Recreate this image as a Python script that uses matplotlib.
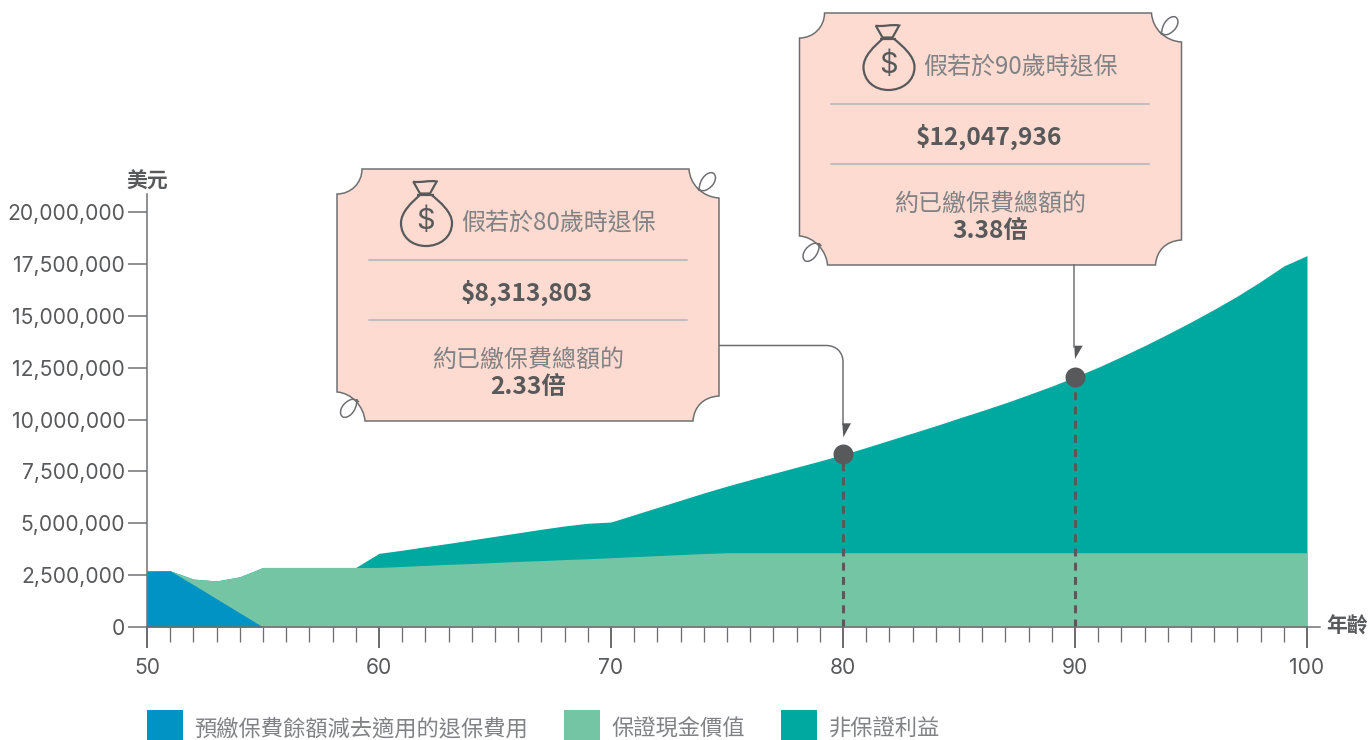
import matplotlib
matplotlib.use('Agg')
import matplotlib.pyplot as plt
from matplotlib.path import Path
from matplotlib.patches import PathPatch, Rectangle, Polygon

# 數據 (讀圖估算, 單位: 百萬美元)
ages = list(range(50, 101))
surrender_value = [2.70, 2.71, 2.04, 1.36, 0.68, 0] + [0] * 45
guaranteed_top = [2.70, 2.71, 2.31, 2.22, 2.42, 2.87, 2.87, 2.87, 2.87, 2.87,
                  2.87, 2.92, 2.97, 3.02, 3.06, 3.11, 3.16, 3.20, 3.25, 3.29,
                  3.34, 3.39, 3.44, 3.49, 3.54, 3.58, 3.58, 3.58, 3.58, 3.58,
                  3.58, 3.58, 3.58, 3.58, 3.58, 3.58, 3.58, 3.58, 3.58, 3.58,
                  3.58, 3.58, 3.58, 3.58, 3.58, 3.58, 3.58, 3.58, 3.58, 3.58,
                  3.58]
total_top = [2.70, 2.71, 2.31, 2.22, 2.42, 2.87, 2.87, 2.87, 2.87, 2.87,
             3.55, 3.70, 3.87, 4.03, 4.20, 4.37, 4.54, 4.71, 4.87, 5.00,
             5.06, 5.41, 5.76, 6.11, 6.46, 6.79, 7.10, 7.40, 7.70, 8.00,
             8.31, 8.65, 9.00, 9.35, 9.70, 10.07, 10.43, 10.80, 11.20, 11.61,
             12.05, 12.52, 13.03, 13.56, 14.12, 14.70, 15.31, 15.95, 16.65, 17.40,
             17.90]
y_ticks = [0, 2.5, 5, 7.5, 10, 12.5, 15, 17.5, 20]
y_labels = ['0', '2,500,000', '5,000,000', '7,500,000', '10,000,000',
            '12,500,000', '15,000,000', '17,500,000', '20,000,000']
x_major = [50, 60, 70, 80, 90, 100]
x_minor = [a for a in ages if a % 10 != 0]
legend_labels = ['預繳保費餘額減去適用的退保費用', '保證現金價值', '非保證利益']
exit_ages = [80, 90]
exit_values = [8.313803, 12.047936]
exit_titles = ['假若於80歲時退保', '假若於90歲時退保']
exit_amounts = ['$8,313,803', '$12,047,936']
exit_multiples = ['2.33倍', '3.38倍']

BLUE = '#0093c3'
GREEN = '#73c5a4'
TEAL = '#00a9a0'
DARK = '#58595b'
AXIS = '#6d6e71'
SOFT = '#808285'
CJK = ['Noto Sans CJK TC', 'DejaVu Sans']
LATIN = ['Inter', 'DejaVu Sans']

W, H = 1370, 740
fig = plt.figure(figsize=(W / 100, H / 100), dpi=100)
px_pt = 72 / 100

# 主圖: 50歲在 x=147, 0 在 y=627
ax = fig.add_axes([147 / W, (H - 627) / H, (1320 - 147) / W, (627 - 194) / H])
ax.set_xlim(50, 50 + (1320 - 147) / 23.2)
ax.set_ylim(0, (627 - 194) / 415 * 20)
ax.patch.set_visible(False)
for s in ['top', 'right']:
    ax.spines[s].set_visible(False)
for s in ['left', 'bottom']:
    ax.spines[s].set_color(AXIS)
    ax.spines[s].set_linewidth(1.5 * px_pt)

ax.fill_between(ages, 0, total_top, color=TEAL, lw=0)
ax.fill_between(ages, 0, guaranteed_top, color=GREEN, lw=0)
ax.fill_between(ages, 0, surrender_value, color=BLUE, lw=0)

ax.set_yticks(y_ticks)
ax.set_yticklabels(y_labels, family=LATIN, fontsize=15.2, color=DARK)
ax.tick_params(axis='y', length=19 * px_pt, width=1.5 * px_pt, color=AXIS, pad=2)
ax.set_xticks(x_major)
ax.set_xticklabels([str(a) for a in x_major], family=LATIN, fontsize=15.2, color=DARK)
ax.set_xticks(x_minor, minor=True)
ax.tick_params(axis='x', which='major', length=21 * px_pt, width=2 * px_pt, color=AXIS, pad=7)
ax.tick_params(axis='x', which='minor', length=15 * px_pt, width=1.3 * px_pt, color=AXIS)

for a, v in zip(exit_ages, exit_values):
    ax.plot([a, a], [0, v], color=DARK, lw=2.2, dashes=(2.6, 2.05), dash_capstyle='butt')
ax.scatter(exit_ages, exit_values, s=207, color=DARK, zorder=5, lw=0)

# 疊加層, 用像素座標畫註解
ov = fig.add_axes([0, 0, 1, 1])
ov.set_xlim(0, W)
ov.set_ylim(H, 0)
ov.axis('off')
ov.patch.set_visible(False)


def curve_path(start, segs, close=False):
    verts = [start]
    codes = [Path.MOVETO]
    for seg in segs:
        if len(seg) == 2:
            verts.append(seg)
            codes.append(Path.LINETO)
        else:
            verts += [seg[:2], seg[2:4], seg[4:6]]
            codes += [Path.CURVE4] * 3
    if close:
        verts.append(start)
        codes.append(Path.CLOSEPOLY)
    return Path(verts, codes)


def shifted(p, x0, y0):
    return Path(p.vertices + [x0, y0], p.codes)


body = curve_path((25, 0), [
    (352, 0), (353, 16, 366, 28, 382, 29),
    (382, 227), (366, 228, 357, 238, 356, 252),
    (28, 252), (27, 238, 15, 224, 0, 223),
    (0, 25), (14, 25, 25, 14, 25, 0)], close=True)
curl_tr = curve_path((362, 22), [(362, 8, 372, 2, 376, 4),
                                 (381, 7, 378, 16, 371, 20),
                                 (368, 22, 365, 23, 360, 19)])
curl_bl = curve_path((20, 230), [(20, 244, 10, 250, 6, 248),
                                 (1, 245, 4, 236, 11, 232),
                                 (14, 230, 17, 229, 22, 233)])
bag = curve_path((83, 26), [(75, 33, 64, 43, 64, 54), (64, 68, 75, 77, 89, 77),
                            (103, 77, 115, 68, 115, 54), (115, 43, 103, 33, 94.7, 26)])
tie = curve_path((76.3, 12.7), [(84, 14, 92, 11, 99.7, 12.5), (93, 24.5), (83, 24.5)], close=True)
band = curve_path((80.5, 25.5), [(97, 25.5)])


def callout(x0, y0, title, amount, multiple):
    ov.add_patch(PathPatch(shifted(body, x0, y0), fc='#fddbd0', ec=AXIS, lw=1.5 * px_pt))
    for p in [curl_tr, curl_bl]:
        ov.add_patch(PathPatch(shifted(p, x0, y0), fc='none', ec=AXIS, lw=1.5 * px_pt))
    for p in [bag, tie, band]:
        ov.add_patch(PathPatch(shifted(p, x0, y0), fc='none', ec=DARK, lw=2.2 * px_pt))
    ov.text(x0 + 89, y0 + 52, '$', family=LATIN, fontsize=21, color=DARK, ha='center', va='center')
    ov.text(x0 + 124, y0 + 53, title, family=CJK, fontsize=17.3, color=SOFT, va='center')
    ov.plot([x0 + 32, x0 + 350], [y0 + 91, y0 + 91], color='#aeb4ba', lw=1.5 * px_pt)
    ov.plot([x0 + 32, x0 + 350], [y0 + 151, y0 + 151], color='#aeb4ba', lw=1.5 * px_pt)
    ov.text(x0 + 190, y0 + 123.5, amount, family=CJK, fontsize=17.7, color=DARK, fontweight='bold', ha='center', va='center')
    ov.text(x0 + 191, y0 + 191, '約已繳保費總額的', family=CJK, fontsize=17.3, color=SOFT, ha='center', va='center')
    ov.text(x0 + 191, y0 + 218, multiple, family=CJK, fontsize=17.6, color=DARK, fontweight='bold', ha='center', va='center')


callout(337, 169, exit_titles[0], exit_amounts[0], exit_multiples[0])
callout(799.5, 13, exit_titles[1], exit_amounts[1], exit_multiples[1])

# 連接線和箭頭
ov.add_patch(PathPatch(curve_path((719, 345.5), [(826, 345.5), (836, 345.5, 843, 352, 843, 362), (843, 425)]),
                       fc='none', ec=AXIS, lw=1.5 * px_pt))
ov.plot([1074.5, 1074.5], [265, 347], color=AXIS, lw=1.5 * px_pt)
ov.add_patch(Polygon([(842.3, 423.3), (851, 423.3), (843.3, 437.3)], fc=DARK, ec='none'))
ov.add_patch(Polygon([(1074.3, 345.7), (1082.7, 345.7), (1075, 359)], fc=DARK, ec='none'))

ov.text(147.5, 181, '美元', family=CJK, fontsize=15, color=DARK, ha='center', va='center', fontweight='bold')
ov.text(1347, 626, '年齡', family=CJK, fontsize=15, color=DARK, ha='center', va='center', fontweight='bold')

# 圖例
swatches = [(147, BLUE), (564, GREEN), (781, TEAL)]
for (x, c), label in zip(swatches, legend_labels):
    ov.add_patch(Rectangle((x, 710), 36, 30, fc=c, ec='none'))
    ov.text(x + 47.5, 729, label, family=CJK, fontsize=16.05, color=SOFT, va='center')

fig.savefig('out.png', dpi=100)
